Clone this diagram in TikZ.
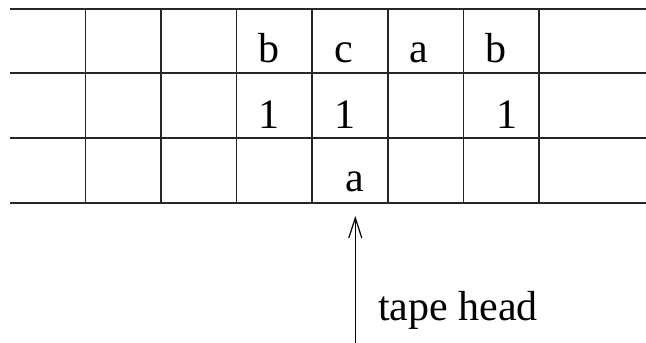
\documentclass[tikz,border=0pt]{standalone}
\usepackage{fontspec}
\setmainfont{Liberation Serif}
\usetikzlibrary{arrows.meta}
\begin{document}
\begin{tikzpicture}[x=1pt,y=-1pt,
  gridline/.style={line width=1.6pt,black!85},
  sym/.style={inner sep=0pt,anchor=base,font=\fontsize{42}{50}\selectfont},
  headarrow/.style={line width=1.2pt,-{Straight Barb[length=20pt,width=13pt,line width=1.2pt]}}]
\useasboundingbox (0,0) rectangle (646,343);
% tape rows
\foreach \y in {8.7,73,138,203}
  \draw[gridline] (10,\y) -- (646,\y);
% cell boundaries
\foreach \x in {85.3,160.9,236.5,312.1,387.7,463.3,538.9}
  \draw[gridline] (\x,8.7) -- (\x,203);
% first track
\node[sym] (r1c4) at (269,62.5) {b};
\node[sym] (r1c5) at (343.5,62.5) {c};
\node[sym] (r1c6) at (419,62.5) {a};
\node[sym] (r1c7) at (496,62.5) {b};
% second track
\node[sym] (r2c4) at (269.3,128) {1};
\node[sym] (r2c5) at (345,128) {1};
\node[sym] (r2c7) at (506.7,128) {1};
% third track
\node[sym] (r3c5) at (355,191.5) {a};
% head pointer
\coordinate (headtip) at (355.3,216);
\coordinate (headfoot) at (355.3,343);
\node[sym,anchor=base west] (headlabel) at (378,320.7) {tape head};
\draw[headarrow] (headfoot) -- (headtip);
\end{tikzpicture}
\end{document}
